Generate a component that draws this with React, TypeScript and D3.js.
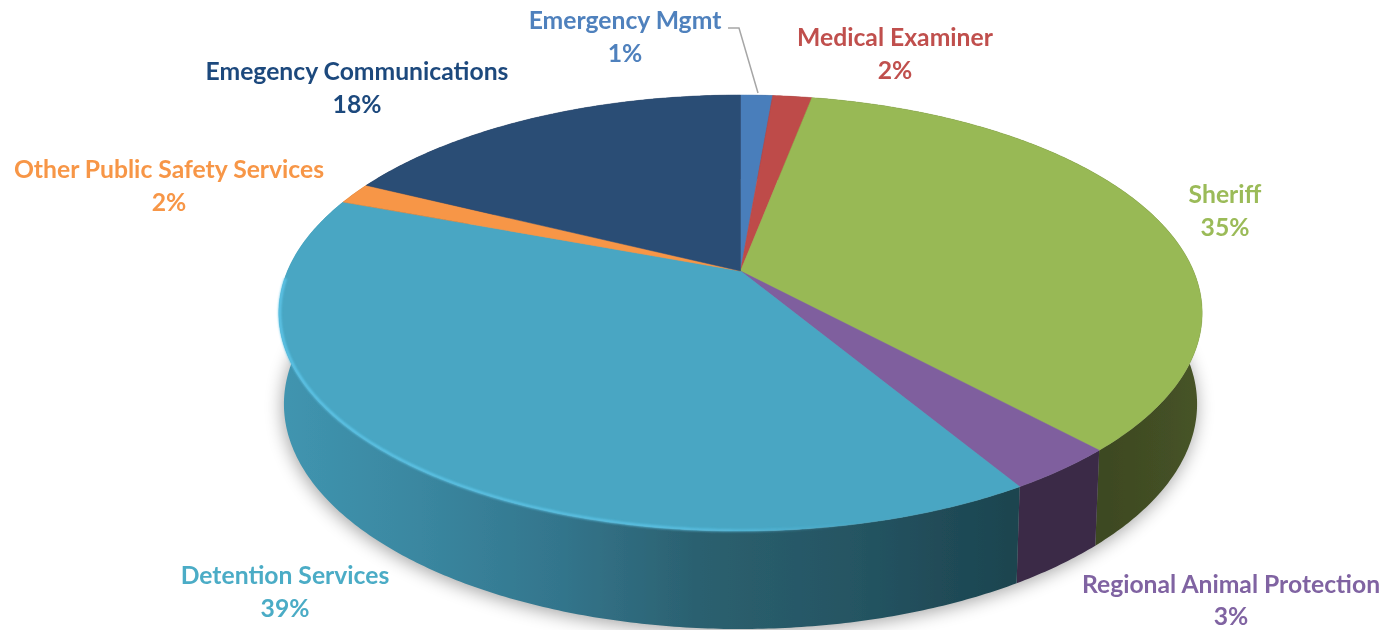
import React from "react";
import * as d3 from "d3";

const categories = [
  "Emergency Mgmt",
  "Medical Examiner",
  "Sheriff",
  "Regional Animal Protection",
  "Detention Services",
  "Other Public Safety Services",
  "Emegency Communications",
];
const shares = [1.35, 1.65, 35.1, 3.3, 39.3, 1.6, 17.7];
const shareLabels = ["1%", "2%", "35%", "3%", "39%", "2%", "18%"];
const topColors = ["#4a7ebb", "#be4b48", "#98b954", "#7f5f9e", "#48a6c3", "#f79646", "#2c4d75"];
const labelColors = ["#4f81bd", "#c0504d", "#9bbb59", "#8064a2", "#4bacc6", "#f79646", "#1f497d"];

// label centres, first-line baseline
const labelPos = [
  [625, 29],
  [895, 46],
  [1225, 203],
  [1231, 592.5],
  [285, 584],
  [169, 178],
  [357, 80],
];

const width = 1384;
const height = 630;

// perspective disc: centre of the pie sits above the centre of the ellipse
const persp = 0.1927;
const A = 209.9;
const B = 453;
const x0 = 740.5;
const yTop = 271;
const yBottom = 360.7;

const project = (t: number, y0: number, sx: number, sy: number): [number, number] => {
  const u = Math.sin(t);
  const v = -Math.cos(t);
  const w = 1 - persp * v;
  return [x0 + (sx * B * u) / w, y0 + (sy * A * v) / w];
};
const onTop = (t: number) => project(t, yTop, 1, 1);
const onBottom = (t: number) => project(t, yBottom, 0.989, 1.032);

const sample = (a: number, b: number) => {
  const n = Math.max(2, Math.ceil(Math.abs(b - a) / 0.01));
  return d3.range(n + 1).map((i) => a + ((b - a) * i) / n);
};

const line = d3.line();

const arcs = d3
  .pie<number>()
  .sort(null)
  .startAngle(0)
  .endAngle(2 * Math.PI)(shares);

const wallFill = [
  "#2c4a70",
  "#70302e",
  "url(#wallGreen)",
  "#3a2a47",
  "url(#wallBlue)",
  "#945a2a",
  "#1a2e46",
];

const wallBlue: [number, string][] = [
  [280, "#4095b0"],
  [420, "#3a87a0"],
  [560, "#33758c"],
  [700, "#2b606f"],
  [850, "#255563"],
  [1015, "#1c444f"],
];

const xShare = d3.scaleLinear().domain([280, 1015]).range([0, 1]);

export default function App() {
  const outline = sample(0, 2 * Math.PI);
  const shadowPath = line(outline.map(onBottom)) + "Z";
  const rim = sample((268 * Math.PI) / 180, (160 * Math.PI) / 180);

  return (
    <svg
      width={width}
      height={height}
      viewBox={`0 0 ${width} ${height}`}
      style={{ position: "absolute", left: 0, top: 0, display: "block" }}
    >
      <defs>
        <filter id="shadowBlur" x="-10%" y="-10%" width="120%" height="120%">
          <feGaussianBlur stdDeviation="9" />
        </filter>
        <filter id="soft" x="-5%" y="-5%" width="110%" height="110%">
          <feGaussianBlur stdDeviation="0.7" />
        </filter>
        <filter id="rimBlur" x="-5%" y="-5%" width="110%" height="110%">
          <feGaussianBlur stdDeviation="0.9" />
        </filter>
        <filter id="textSoft" x="-5%" y="-5%" width="110%" height="110%">
          <feGaussianBlur stdDeviation="0.35" />
        </filter>
        <linearGradient id="wallBlue" gradientUnits="userSpaceOnUse" x1={280} x2={1015} y1={0} y2={0}>
          {wallBlue.map(([x, c]) => (
            <stop key={x} offset={xShare(x)} stopColor={c} />
          ))}
        </linearGradient>
        <linearGradient id="wallGreen" gradientUnits="userSpaceOnUse" x1={1089} x2={1205} y1={0} y2={0}>
          <stop offset={0} stopColor="#3c4721" />
          <stop offset={1} stopColor="#475427" />
        </linearGradient>
        <linearGradient id="rimFade" gradientUnits="userSpaceOnUse" x1={280} x2={860} y1={0} y2={0}>
          <stop offset={0} stopColor="#5fc8ec" stopOpacity={0.95} />
          <stop offset={0.7} stopColor="#5fc8ec" stopOpacity={0.8} />
          <stop offset={1} stopColor="#5fc8ec" stopOpacity={0} />
        </linearGradient>
      </defs>

      <path
        d={shadowPath}
        fill="#000"
        opacity={0.36}
        filter="url(#shadowBlur)"
        transform="translate(-1 3)"
      />

      <g filter="url(#soft)">
        {arcs.map((d, i) => {
          const ts = sample(d.startAngle, d.endAngle);
          const upper = ts.map(onTop);
          const lower = ts.map(onBottom).reverse();
          return <path key={i} d={line([...upper, ...lower]) + "Z"} fill={wallFill[i]} />;
        })}
        {arcs.map((d, i) => {
          const ts = sample(d.startAngle, d.endAngle);
          const pts: [number, number][] = [[x0, yTop], ...ts.map(onTop)];
          return (
            <path
              key={i}
              d={line(pts) + "Z"}
              fill={topColors[i]}
              stroke={topColors[i]}
              strokeWidth={0.5}
            />
          );
        })}
        <path
          d={line(rim.map((t) => project(t, yTop, 0.998, 0.998))) ?? ""}
          fill="none"
          stroke="url(#rimFade)"
          strokeWidth={2.6}
          filter="url(#rimBlur)"
        />
      </g>

      <polyline
        points="728,28 739,28 758,93"
        fill="none"
        stroke="#a6a6a6"
        strokeWidth={1.5}
      />

      <g
        fontFamily="Lato, 'Open Sans', sans-serif"
        fontWeight={700}
        fontSize={24.7}
        textAnchor="middle"
        filter="url(#textSoft)"
      >
        {categories.map((name, i) => (
          <text key={name} x={labelPos[i][0]} y={labelPos[i][1]} fill={labelColors[i]}>
            <tspan x={labelPos[i][0]}>{name}</tspan>
            <tspan x={labelPos[i][0]} dy={32.5}>
              {shareLabels[i]}
            </tspan>
          </text>
        ))}
      </g>
    </svg>
  );
}
